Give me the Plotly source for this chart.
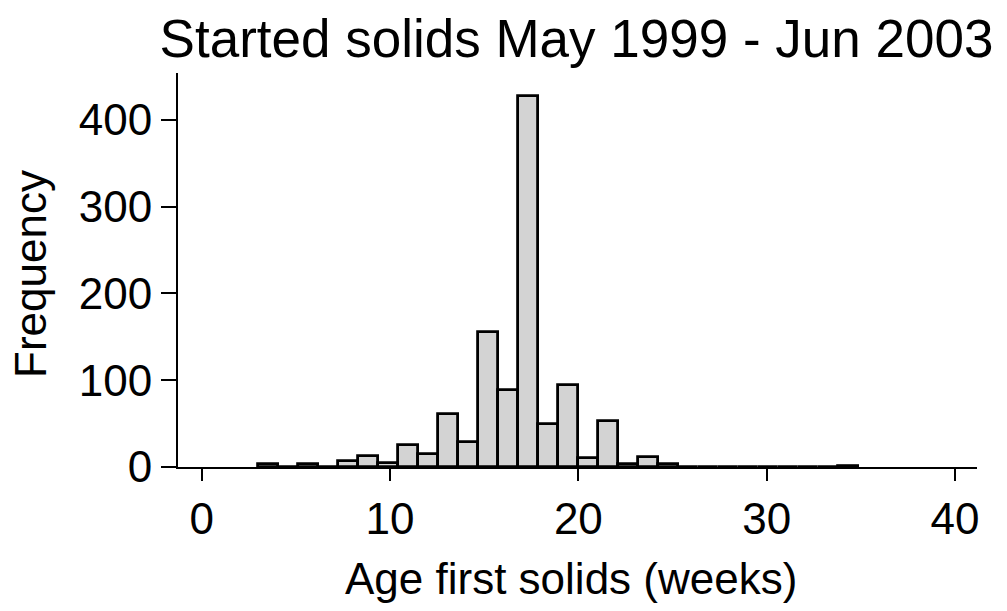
import plotly.graph_objects as go

# Histogram data: 30 bins starting at 3 weeks, width 1.0625
bin_start = 3.0
bin_width = 1.0625
counts = [3, 0, 3, 0, 7, 13, 5, 25, 15, 61,
          29, 156, 89, 428, 50, 95, 10, 53, 4, 12,
          3, 0, 0, 0, 0, 0, 0, 0, 0, 1]
x_ticks = [0, 10, 20, 30, 40]
y_ticks = [0, 100, 200, 300, 400]
title_text = "Started solids May 1999 - Jun 2003"
x_title = "Age first solids (weeks)"
y_title = "Frequency"

centers = [bin_start + bin_width * (i + 0.5) for i in range(len(counts))]

FONT = "Liberation Sans, Arial, sans-serif"
W, H = 1007, 611
L, R, T, B = 178, 30, 73, 144
PW, PH = W - L - R, H - T - B

fig = go.Figure()
fig.add_trace(go.Bar(
    x=centers, y=counts, width=[bin_width] * len(counts),
    marker=dict(color="#d3d3d3", line=dict(color="black", width=2.8)),
    showlegend=False,
))

fig.update_layout(
    width=W, height=H,
    margin=dict(l=L, r=R, t=T, b=B, autoexpand=False),
    plot_bgcolor="white", paper_bgcolor="white",
    font=dict(family=FONT, size=44, color="black"),
    title=dict(text=title_text, font=dict(family=FONT, size=53, color="black"),
               x=576.5 / W, xanchor="center", xref="container",
               y=1 - 38 / H, yanchor="middle", yref="container"),
    bargap=0,
    annotations=[
        dict(text=x_title, xref="paper", yref="paper",
             x=(571 - L) / PW, y=(H - B - 578) / PH,
             xanchor="center", yanchor="middle", showarrow=False,
             font=dict(family=FONT, size=44, color="black")),
        dict(text=y_title, xref="paper", yref="paper", textangle=-90,
             x=(30 - L) / PW, y=(H - B - 274) / PH,
             xanchor="center", yanchor="middle", showarrow=False,
             font=dict(family=FONT, size=44, color="black")),
    ],
)
fig.update_xaxes(
    range=[-1.26, 41.17], tickvals=x_ticks, ticktext=[str(v) for v in x_ticks],
    showline=True, linecolor="black", linewidth=2,
    ticks="outside", ticklen=12, tickwidth=2, tickcolor="black",
    showgrid=False, zeroline=False, automargin=False,
    tickfont=dict(size=44),
)
fig.update_yaxes(
    range=[0, 454], tickvals=y_ticks, ticktext=[str(v) for v in y_ticks],
    showline=True, linecolor="black", linewidth=2,
    ticks="outside", ticklen=15, tickwidth=2, tickcolor="black",
    showgrid=False, zeroline=False, automargin=False,
    tickfont=dict(size=44),
)

fig.write_html("out.html", config={"displayModeBar": False},
               post_script="document.body.style.margin='0px';document.body.style.overflow='hidden';")
